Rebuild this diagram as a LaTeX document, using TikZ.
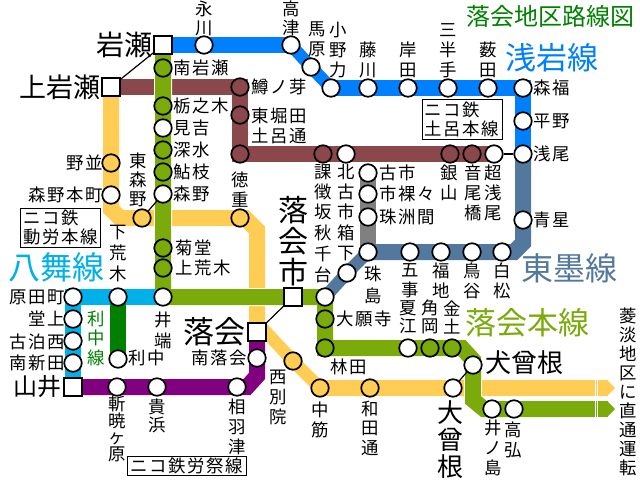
\documentclass[tikz,border=0pt]{standalone}
\usepackage{xcolor}
\usepackage{fontspec}
\setmainfont{Noto Sans CJK JP}
\newfontfamily\jpwide[LetterSpace=9]{Noto Sans CJK JP}
\usetikzlibrary{positioning}
\usetikzlibrary{backgrounds}
\usetikzlibrary{arrows.meta}
\definecolor{asablue}{rgb}{0.0,0.5,1.0}
\definecolor{tokoblue}{rgb}{0.32,0.47,0.62}
\definecolor{honolive}{rgb}{0.48,0.67,0.04}
\definecolor{dorobrown}{rgb}{0.54,0.28,0.30}
\definecolor{kinyellow}{rgb}{1.0,0.8,0.33}
\definecolor{yamasky}{rgb}{0.0,0.69,0.91}
\definecolor{riforest}{rgb}{0.0,0.5,0.0}
\definecolor{roupurple}{rgb}{0.5,0.0,0.5}
\definecolor{titlegreen}{rgb}{0.0,0.5,0.0}
\newcommand{\stackfont}[2]{\fontsize{#1}{#2}\selectfont\lineskiplimit-30pt\relax}

\begin{document}
\begin{tikzpicture}[x=1pt,y=-1pt,
	line join=miter,
	stop/.style={circle,draw,line width=1.7pt,fill=white,inner sep=0pt,minimum size=17.5pt},
	hub/.style={rectangle,draw,line width=2pt,fill=white,inner sep=0pt,minimum size=17.5pt},
	route/.style={line width=16pt},
	slant/.style={line width=12.5pt},
	casing/.style={line width=18pt,white},
	link/.style={line width=1.2pt},
	vname/.style={inner sep=0pt,align=center,font=\stackfont{17.4}{#1}},
	vname/.default=20,
	hname/.style={inner sep=0pt,font=\jpwide\fontsize{17.4}{20}\selectfont},
	big/.style={inner sep=0pt,align=center,font=\stackfont{#1}{#1.9}},
	frame/.style={draw,line width=1pt,inner sep=1pt,align=left,font=\jpwide\stackfont{17.4}{19}}]
  \useasboundingbox (0,0) rectangle (640,480);

  \node[hub] (iwase) at (163,45) {};
  \node[hub] (kamiiwase) at (111,87) {};
  \node[hub] (ochiaishi) at (293,297) {};
  \node[hub] (ochiai) at (257,332) {};
  \node[hub] (yamai) at (73,387) {};

  \node[stop] (nagakawa) at (204,45) {};
  \node[stop] (takatsu) at (291,45) {};
  \node[stop] (mabara) at (311,67) {};
  \node[stop] (onoriki) at (331,88) {};
  \node[stop] (fujikawa) at (368,88) {};
  \node[stop] (kishida) at (408,88) {};
  \node[stop] (mihante) at (448,88) {};
  \node[stop] (yabuta) at (488,88) {};
  \node[stop] (morifuku) at (523,88) {};
  \node[stop] (hirano) at (523,121) {};
  \node[stop] (asao) at (523,154) {};

  \node[stop] (seisei) at (523,220) {};
  \node[stop] (shiromatsu) at (502,252) {};
  \node[stop] (torigaya) at (472,252) {};
  \node[stop] (fukuchi) at (441,252) {};
  \node[stop] (goji) at (410,252) {};
  \node[stop] (hakoshita) at (368,252) {};
  \node[stop] (shujima) at (347,273) {};
  \node[stop] (akichi) at (325,297) {};

  \node[stop] (koichi) at (368,173) {};
  \node[stop] (ichira) at (368,194) {};
  \node[stop] (suzuma) at (368,217) {};

  \node[stop,fill=dorobrown] (masunome) at (240,87) {};
  \node[stop,fill=dorobrown] (higashihorita) at (240,115) {};
  \node[stop,fill=dorobrown] (torodori) at (240,154) {};
  \node[stop,fill=dorobrown] (kachosaka) at (323,154) {};
  \node[stop] (kitakoichi) at (346,154) {};
  \node[stop,fill=dorobrown] (ginzan) at (450,154) {};
  \node[stop,fill=dorobrown] (otobashi) at (472,154) {};
  \node[stop] (choasao) at (494,154) {};

  \node[stop,fill=honolive] (minamiiwase) at (163,68) {};
  \node[stop,fill=honolive] (tochinoki) at (163,106) {};
  \node[stop] (miyoshi) at (163,128) {};
  \node[stop,fill=honolive] (fukamizu) at (163,150) {};
  \node[stop,fill=honolive] (ayueda) at (163,172) {};
  \node[stop] (morino) at (163,194) {};
  \node[stop,fill=honolive] (kikudo) at (163,248) {};
  \node[stop,fill=honolive] (kamiaraki) at (163,268) {};
  \node[stop] (ibata) at (163,297) {};
  \node[stop,fill=honolive] (daiganji) at (325,319) {};
  \node[stop,fill=honolive] (hayashida) at (325,348) {};
  \node[stop] (natsue) at (408,348) {};
  \node[stop,fill=honolive] (kadooka) at (430,348) {};
  \node[stop,fill=honolive] (kanedo) at (452,348) {};
  \node[stop] (inusone) at (473,365) {};
  \node[stop] (inoshima) at (492,409) {};
  \node[stop] (takahiro) at (514,409) {};

  \node[stop,fill=kinyellow] (nonami) at (111,163) {};
  \node[stop] (morinohon) at (111,195) {};
  \node[stop,fill=kinyellow] (higashimorino) at (142,218) {};
  \node[stop,fill=kinyellow] (tokushige) at (240,218) {};
  \node[stop,fill=kinyellow] (nishibetsu) at (293,361) {};
  \node[stop,fill=kinyellow] (nakasuji) at (320,388) {};
  \node[stop,fill=kinyellow] (wadadori) at (370,388) {};
  \node[stop] (osone) at (453,388) {};

  \node[stop] (haradamachi) at (73,297) {};
  \node[stop] (dojo) at (73,319) {};
  \node[stop] (kodomari) at (73,341) {};
  \node[stop] (minamishinden) at (73,363) {};
  \node[stop] (shimoaraki) at (118,297) {};
  \node[stop] (rinaka) at (118,359) {};

  \node[stop] (zangyo) at (117,387) {};
  \node[stop] (kihama) at (157,387) {};
  \node[stop] (aiba) at (237,387) {};
  \node[stop] (minamiochiai) at (257,358) {};

  \coordinate (kinend) at (615,388);
  \coordinate (honend) at (615,409);

  \begin{scope}[on background layer]
    \draw[route,kinyellow] (kamiiwase.center) -- (nonami.center) -- (morinohon.center) -- (111,209) -- (120,218) -- (higashimorino.center)
      -- (tokushige.center) -- (245,218) -- (257,230) -- (ochiai.center);
    \draw[slant,kinyellow] (ochiai.north) -- (nishibetsu.center) -- (nakasuji.center);
    \draw[route,kinyellow] (nakasuji.center) -- (wadadori.center) -- (osone.center) -- (530,388);
    \draw[route,kinyellow,-{Triangle[width=16pt,length=8pt]}] (530,388) -- (kinend);
    \draw[route,dorobrown] (kamiiwase.center) -- (masunome.center) -- (higashihorita.center) -- (torodori.center) -- (kachosaka.center)
      -- (kitakoichi.center) -- (ginzan.center) -- (otobashi.center) -- (choasao.center);
    \draw[casing] (iwase.center) -- (ibata.center) -- (ochiaishi.center) -- (akichi.center) -- (hayashida.center) -- (462,348) -- (473,360) -- (473,400);
    \draw[route,honolive] (iwase.center) -- (minamiiwase.center) -- (tochinoki.center) -- (miyoshi.center) -- (fukamizu.center) -- (ayueda.center)
      -- (morino.center) -- (kikudo.center) -- (kamiaraki.center) -- (ibata.center) -- (ochiaishi.center) -- (akichi.center) -- (daiganji.center)
      -- (hayashida.center) -- (natsue.center) -- (kadooka.center) -- (kanedo.center) -- (462,348) -- (473,360) -- (inusone.center) -- (473,400) -- (484,409)
      -- (inoshima.center) -- (takahiro.center) -- (560,409);
    \draw[route,honolive,-{Triangle[width=16pt,length=8pt]}] (560,409) -- (honend);
    \draw[route,asablue] (iwase.center) -- (nagakawa.center) -- (takatsu.center);
    \draw[slant,asablue] (takatsu.center) -- (mabara.center) -- (onoriki.center);
    \draw[route,asablue] (onoriki.center) -- (fujikawa.center)
      -- (kishida.center) -- (mihante.center) -- (yabuta.center) -- (morifuku.center) -- (hirano.center) -- (asao.center);
    \draw[route,gray] (koichi.center) -- (ichira.center) -- (suzuma.center) -- (hakoshita.center);
    \draw[route,tokoblue] (asao.center) -- (seisei.center) -- (523,243) -- (514,252) -- (shiromatsu.center) -- (torigaya.center) -- (fukuchi.center)
      -- (goji.center) -- (hakoshita.center);
    \draw[slant,tokoblue] (hakoshita.center) -- (shujima.center) -- (akichi.center);
    \draw[route,yamasky] (ibata.center) -- (shimoaraki.center) -- (haradamachi.center) -- (dojo.center) -- (kodomari.center) -- (minamishinden.center) -- (yamai.center);
    \draw[route,riforest] (shimoaraki.center) -- (rinaka.center);
    \draw[route,roupurple] (yamai.center) -- (zangyo.center) -- (kihama.center) -- (aiba.center) -- (247,387) -- (257,376) -- (minamiochiai.center) -- (ochiai.center);
    \draw[white,line width=.8pt] (595,380) -- (595,396) (597.5,380) -- (597.5,396);
    \draw[white,line width=.8pt] (595,401) -- (595,417) (597.5,401) -- (597.5,417);
  \end{scope}

  \draw[link] (iwase) -- (kamiiwase);
  \draw[link] (morino) -- (higashimorino);
  \draw[link] (ochiaishi) -- (ochiai);
  \draw[link] (inusone) -- (osone);
  \draw[link] (choasao) -- (asao);

  \node[big=28,left=1pt of iwase] (tiwase) {岩瀬};
  \node[big=27,left=1pt of kamiiwase] (tkamiiwase) {上岩瀬};
  \node[big=30] (tochiaishi) at (293,241) {落\\会\\市};
  \node[big=31,left=2pt of ochiai] (tochiai) {落会};
  \node[big=24,left=2pt of yamai] (tyamai) {山井};
  \node[big=26,anchor=west] (tinusone) at (485,363) {犬曾根};
  \node[big=26] (tosone) at (450,440) {大\\曾\\根};

  \node[vname=19] (tnagakawa) at (204,18) {永\\川};
  \node[vname=19] (ttakatsu) at (291,18) {高\\津};
  \node[vname] (tmabara) at (317,39) {馬\\原};
  \node[vname] (tonoriki) at (338,50) {小\\野\\力};
  \node[vname,above=0pt of fujikawa] (tfujikawa) {藤\\川};
  \node[vname,above=0pt of kishida] (tkishida) {岸\\田};
  \node[vname,above=0pt of mihante] (tmihante) {三\\半\\手};
  \node[vname,above=0pt of yabuta] (tyabuta) {薮\\田};
  \node[hname,right=1pt of morifuku] (tmorifuku) {森福};
  \node[hname,right=1pt of hirano] (thirano) {平野};
  \node[hname,right=1pt of asao] (tasao) {浅尾};
  \node[hname,right=1pt of seisei] (tseisei) {青星};

  \node[vname] (tshiromatsu) at (502,281) {白\\松};
  \node[vname] (ttorigaya) at (472,281) {鳥\\谷};
  \node[vname] (tfukuchi) at (441,281) {福\\地};
  \node[vname] (tgoji) at (410,281) {五\\事};
  \node[vname=22] (tshujima) at (373,285) {珠\\島};
  \node[vname=18] (tnatsue) at (408,317) {夏\\江};
  \node[vname=18] (tkadooka) at (430,317) {角\\岡};
  \node[vname=18] (tkanedo) at (452,317) {金\\土};

  \node[hname,right=2pt of koichi] (tkoichi) {古市};
  \node[hname,right=2pt of ichira] (tichira) {市裸々};
  \node[hname,right=2pt of suzuma] (tsuzuma) {珠洲間};

  \node[hname,right=2pt of masunome] (tmasunome) {鱒ノ芽};
  \node[hname,anchor=west] (thigashihorita) at (251,116) {東堀田};
  \node[hname,anchor=west] (ttorodori) at (251,136) {土呂通};
  \node[vname] (tkachosaka) at (323,192) {課\\徴\\坂};
  \node[vname=21] (takichi) at (323,254) {秋\\千\\台};
  \node[vname] (tkitakoichi) at (346,192) {北\\古\\市};
  \node[vname] (thakoshita) at (346,243) {箱\\下};
  \node[vname] (tginzan) at (449,183) {銀\\山};
  \node[vname] (totobashi) at (473,193) {音\\尾\\橋};
  \node[vname] (tchoasao) at (493,193) {超\\浅\\尾};

  \node[hname,right=1pt of minamiiwase] (tminamiiwase) {南岩瀬};
  \node[hname,right=1pt of tochinoki] (ttochinoki) {栃之木};
  \node[hname,right=1pt of miyoshi] (tmiyoshi) {見吉};
  \node[hname,right=1pt of fukamizu] (tfukamizu) {深水};
  \node[hname,right=1pt of ayueda] (tayueda) {鮎枝};
  \node[hname,right=1pt of morino] (tmorino) {森野};
  \node[hname,right=3pt of kikudo] (tkikudo) {菊堂};
  \node[hname,right=3pt of kamiaraki] (tkamiaraki) {上荒木};
  \node[vname=21,below=5pt of ibata] (tibata) {井\\端};
  \node[hname,right=2pt of daiganji] (tdaiganji) {大願寺};
  \node[hname] (thayashida) at (349,367) {林田};
  \node[vname] (tinoshima) at (493,448) {井\\ノ\\島};
  \node[vname] (ttakahiro) at (513,440) {高\\弘};

  \node[hname,anchor=east] (tnonami) at (103,163) {野並};
  \node[hname,anchor=east] (tmorinohon) at (103,195) {森野本町};
  \node[vname=19] (thigashimorino) at (138,180) {東\\森\\野};
  \node[vname] (ttokushige) at (240,190) {徳\\重};
  \node[vname] (tnishibetsu) at (278,397) {西\\別\\院};
  \node[vname] (tnakasuji) at (320,420) {中\\筋};
  \node[vname=19.5] (twadadori) at (370,428) {和\\田\\通};

  \node[hname,anchor=east] (tharadamachi) at (65,297) {原田町};
  \node[hname,anchor=east] (tdojo) at (65,319) {堂上};
  \node[hname,anchor=east] (tkodomari) at (65,342) {古泊西};
  \node[hname,anchor=east] (tminamishinden) at (65,363) {南新田};
  \node[vname=21] (tshimoaraki) at (118,254) {下\\荒\\木};
  \node[hname,anchor=west] (trinaka) at (128,358) {利中};
  \node[vname=19.5,text=riforest] (trinakaline) at (96,338) {利\\中\\線};

  \node[vname=16.5] (tzangyo) at (117,429) {斬\\暁\\ヶ\\原};
  \node[vname=18] (tkihama) at (157,416) {貴\\浜};
  \node[vname] (taiba) at (237,427) {相\\羽\\津};
  \node[hname,anchor=east] (tminamiochiai) at (247,358) {南落会};
  \node[vname=19] (tchokutsu) at (628,392) {菱\\淡\\地\\区\\に\\直\\通\\運\\転};

  \node[frame,minimum width=80pt,minimum height=40pt] (fdoro) at (462,119) {ニコ鉄\\土呂本線};
  \node[frame,minimum width=80pt,minimum height=39pt] (fkin) at (60.5,227.5) {ニコ鉄\\動労本線};
  \node[frame,minimum width=119pt,minimum height=19pt] (frou) at (186.5,465.5) {ニコ鉄労祭線};

  \node[big=31,text=asablue] (lasa) at (552,58) {浅岩線};
  \node[big=32,text=tokoblue] (ltoko) at (569,268) {東墨線};
  \node[big=31,text=honolive] (lhon) at (527,323) {落会本線};
  \node[big=32,text=yamasky] (lyama) at (57,267) {八舞線};
  \node[big=24,text=titlegreen] (ltitle) at (550,16) {落会地区路線図};
\end{tikzpicture}
\end{document}
